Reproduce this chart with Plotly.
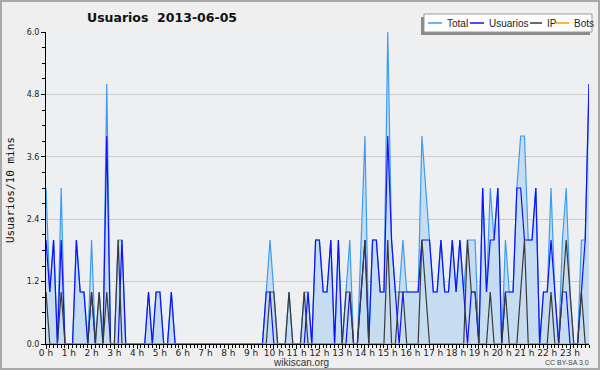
import plotly.graph_objects as go

# ---- data (10-minute slots, 2013-06-05) ----
hour_labels = ["0 h", "1 h", "2 h", "3 h", "4 h", "5 h", "6 h", "7 h", "8 h", "9 h", "10 h", "11 h",
               "12 h", "13 h", "14 h", "15 h", "16 h", "17 h", "18 h", "19 h", "20 h", "21 h", "22 h", "23 h"]
slot_minutes = [10 * i for i in range(144)]

total = [3, 1, 2, 0, 3, 0,   0, 0, 2, 1, 1, 0,   2, 0, 1, 0, 5, 0,   0, 2, 2, 0, 0, 0,
         0, 0, 0, 1, 0, 1,   1, 0, 0, 1, 0, 0,   0, 0, 0, 0, 0, 0,   0, 0, 0, 0, 0, 0,
         0, 0, 0, 0, 0, 0,   0, 0, 0, 0, 1, 2,   1, 0, 0, 0, 1, 0,   0, 0, 1, 1, 0, 2,
         2, 1, 1, 2, 0, 2,   0, 1, 2, 0, 0, 2,   4, 0, 2, 2, 1, 1,   6, 2, 1, 1, 2, 1,
         1, 1, 1, 4, 3, 2,   1, 1, 2, 1, 1, 2,   1, 2, 1, 2, 2, 2,   0, 3, 1, 3, 2, 3,
         0, 2, 1, 1, 3, 4,   4, 2, 2, 3, 0, 1,   1, 3, 1, 0, 2, 3,   1, 0, 0, 2, 2, 5]

usuarios = [2, 1, 2, 0, 2, 0,   0, 0, 2, 1, 1, 0,   1, 0, 0, 0, 4, 0,   0, 0, 2, 0, 0, 0,
            0, 0, 0, 1, 0, 1,   1, 0, 0, 1, 0, 0,   0, 0, 0, 0, 0, 0,   0, 0, 0, 0, 0, 0,
            0, 0, 0, 0, 0, 0,   0, 0, 0, 0, 1, 1,   0, 0, 0, 0, 0, 0,   0, 0, 0, 1, 0, 2,
            2, 1, 1, 2, 0, 2,   0, 0, 1, 0, 0, 1,   2, 0, 2, 2, 1, 1,   4, 2, 1, 0, 1, 1,
            1, 1, 1, 2, 2, 2,   1, 1, 2, 1, 1, 2,   1, 2, 1, 0, 1, 1,   0, 3, 1, 2, 2, 3,
            0, 1, 1, 1, 3, 3,   2, 2, 2, 3, 0, 1,   1, 2, 1, 0, 1, 1,   0, 0, 0, 1, 2, 5]

ip = [1, 0, 0, 0, 1, 0,   0, 0, 0, 0, 0, 0,   1, 0, 1, 0, 1, 0,   0, 2, 0, 0, 0, 0,
      0, 0, 0, 0, 0, 0,   0, 0, 0, 0, 0, 0,   0, 0, 0, 0, 0, 0,   0, 0, 0, 0, 0, 0,
      0, 0, 0, 0, 0, 0,   0, 0, 0, 0, 0, 1,   1, 0, 0, 0, 1, 0,   0, 0, 1, 0, 0, 0,
      0, 0, 0, 0, 0, 0,   0, 1, 1, 0, 0, 1,   2, 0, 0, 0, 0, 0,   2, 0, 0, 1, 1, 0,
      0, 0, 0, 2, 1, 0,   0, 0, 0, 0, 0, 0,   0, 0, 0, 2, 1, 1,   0, 0, 0, 1, 0, 0,
      0, 1, 0, 0, 0, 1,   2, 0, 0, 0, 0, 0,   0, 1, 0, 0, 1, 2,   1, 0, 0, 1, 0, 0]

bots = [0, 0, 0, 0, 0, 0,   0, 0, 0, 0, 0, 0,   0, 0, 0, 0, 0, 0,   0, 0, 0, 0, 0, 0,
        0, 0, 0, 0, 0, 0,   0, 0, 0, 0, 0, 0,   0, 0, 0, 0, 0, 0,   0, 0, 0, 0, 0, 0,
        0, 0, 0, 0, 0, 0,   0, 0, 0, 0, 0, 0,   0, 0, 0, 0, 0, 0,   0, 0, 0, 0, 0, 0,
        0, 0, 0, 0, 0, 0,   0, 0, 0, 0, 0, 0,   0, 0, 0, 0, 0, 0,   0, 0, 0, 0, 0, 0,
        0, 0, 0, 0, 0, 0,   0, 0, 0, 0, 0, 0,   0, 0, 0, 0, 0, 0,   0, 0, 0, 0, 0, 0,
        0, 0, 0, 0, 0, 0,   0, 0, 0, 0, 0, 0,   0, 0, 0, 0, 0, 0,   0, 0, 0, 0, 0, 0]

y_ticks = [0.0, 1.2, 2.4, 3.6, 4.8, 6.0]
hour_ticks = [60 * h for h in range(24)]

series_names = ["Total", "Usuarios", "IP", "Bots"]
series_colors = ["#3d9cf2", "#1010ff", "#3a3a3a", "#ff9900"]

# ---- layout geometry helpers (pixels -> paper) ----
L, R, T, B = 46, 11, 32, 26
W, H = 600, 370
PW, PH = W - L - R, H - T - B


def px(x):
    return (x - L) / PW


def py(y):
    return (H - B - y) / PH


FONT = "DejaVu Sans, sans-serif"
NARROW = "Liberation Sans, Arial, sans-serif"

fig = go.Figure()
fig.add_trace(go.Scatter(x=slot_minutes, y=total, mode="lines", name="Total",
                         line=dict(color=series_colors[0], width=1.2),
                         fill="tozeroy", fillcolor="#c6dcf0"))
fig.add_trace(go.Scatter(x=slot_minutes, y=usuarios, mode="lines", name="Usuarios",
                         line=dict(color=series_colors[1], width=1.2)))
fig.add_trace(go.Scatter(x=slot_minutes, y=ip, mode="lines", name="IP",
                         line=dict(color=series_colors[2], width=1.2)))
fig.add_trace(go.Scatter(x=slot_minutes, y=bots, mode="lines", name="Bots",
                         line=dict(color=series_colors[3], width=1)))

shapes = []
annotations = []

# outer frame
shapes.append(dict(type="rect", xref="paper", yref="paper", x0=px(1), x1=px(599), y0=py(369), y1=py(1),
                   line=dict(color="#a8a8a8", width=2), layer="below"))

# custom legend
shapes.append(dict(type="rect", xref="paper", yref="paper", x0=px(421), x1=px(590), y0=py(35), y1=py(17),
                   fillcolor="#8a8a8a", line=dict(width=0)))
shapes.append(dict(type="rect", xref="paper", yref="paper", x0=px(424), x1=px(592), y0=py(32), y1=py(14),
                   fillcolor="white", line=dict(color="#999999", width=1)))
legend_line_x = [(428, 442), (470, 484), (530, 542), (556, 569)]
legend_text_x = [445, 487, 545, 572]
for (a, b), tx, name, col in zip(legend_line_x, legend_text_x, series_names, series_colors):
    shapes.append(dict(type="line", xref="paper", yref="paper", x0=px(a), x1=px(b), y0=py(23), y1=py(23),
                       line=dict(color=col, width=1.5)))
    annotations.append(dict(text=name, xref="paper", yref="paper", x=px(tx), y=py(23),
                            xanchor="left", yanchor="middle", showarrow=False,
                            font=dict(family=NARROW, size=10, color="#222")))

# title
annotations.append(dict(text="<b>Usuarios\u00a0 2013-06-05</b>", xref="paper", yref="paper",
                        x=px(85), y=py(18), xanchor="left", yanchor="middle", showarrow=False,
                        font=dict(family=FONT, size=12.5, color="#111")))
# y axis title
annotations.append(dict(text="Usuarios/10 mins", xref="paper", yref="paper", x=px(10), y=py(190),
                        xanchor="center", yanchor="middle", textangle=-90, showarrow=False,
                        font=dict(family="DejaVu Sans Mono, monospace", size=11, color="#111")))
# footer
annotations.append(dict(text="wikiscan.org", xref="paper", yref="paper", x=px(301), y=py(362),
                        xanchor="center", yanchor="middle", showarrow=False,
                        font=dict(family=NARROW, size=10, color="#333")))
annotations.append(dict(text="CC BY-SA 3.0", xref="paper", yref="paper", x=px(591), y=py(362),
                        xanchor="right", yanchor="middle", showarrow=False,
                        font=dict(family=NARROW, size=7, color="#444")))

fig.update_layout(
    width=W, height=H, autosize=False,
    margin=dict(l=L, r=R, t=T, b=B, pad=0, autoexpand=False),
    paper_bgcolor="#efefef",
    plot_bgcolor="#eeeff1",
    showlegend=False,
    shapes=shapes,
    annotations=annotations,
    xaxis=dict(range=[0, 1430], tickvals=hour_ticks, ticktext=hour_labels, automargin=False,
               ticks="outside", ticklen=4, tickcolor="black", tickwidth=1, ticklabelstandoff=-4,
               showline=True, linecolor="black", linewidth=1, showgrid=False, zeroline=False,
               tickfont=dict(family=FONT, size=9, color="#222"),
               minor=dict(dtick=10, tick0=0, ticks="outside", ticklen=3, tickcolor="black", showgrid=False)),
    yaxis=dict(range=[0, 6], tickvals=y_ticks, tickformat=".1f", automargin=False,
               ticks="outside", ticklen=4, tickcolor="black", tickwidth=1,
               showline=True, linecolor="black", linewidth=1,
               showgrid=True, gridcolor="#cccccc", gridwidth=1, zeroline=False,
               tickfont=dict(family=FONT, size=8, color="#222"),
               minor=dict(dtick=0.3, tick0=0, ticks="outside", ticklen=3, tickcolor="black", showgrid=False)),
)

fig.write_html("out.html", config={"displayModeBar": False},
               post_script="document.body.style.margin='0';document.body.style.padding='0';")
